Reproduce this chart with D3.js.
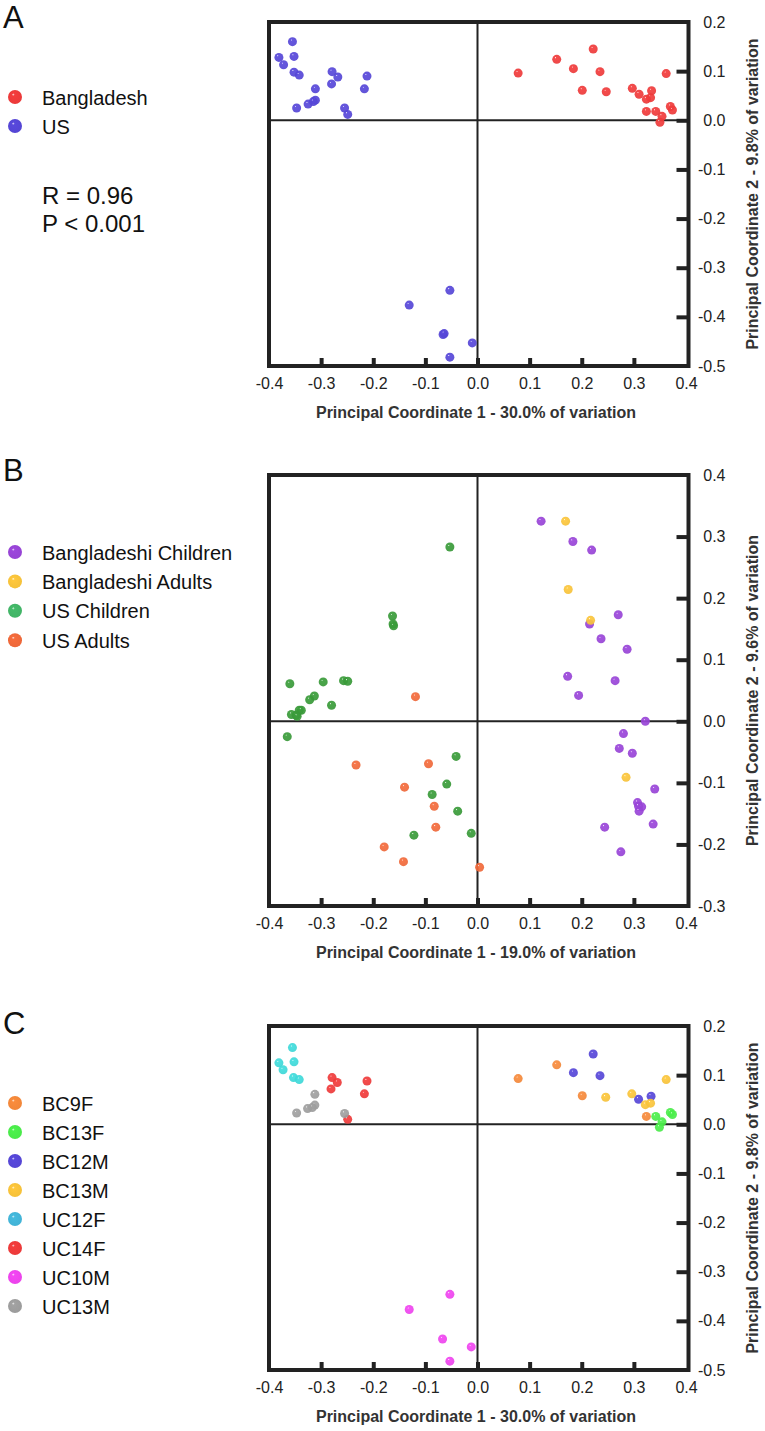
<!DOCTYPE html>
<html><head><meta charset="utf-8">
<script src="https://cdn.jsdelivr.net/npm/d3@7"></script>
<style>
body{margin:0;background:#fff}
svg{display:block}
text{font-family:"Liberation Sans",Arial,Helvetica,sans-serif}
</style>
</head><body>
<svg id="chart" width="765" height="1431"></svg>
<script>
// ---------------- DATA ----------------
const xTicks = [-0.4,-0.3,-0.2,-0.1,0.0,0.1,0.2,0.3,0.4];
const xTickLabels = ["-0.4","-0.3","-0.2","-0.1","0.0","0.1","0.2","0.3","0.4"];
const yTicksAC = [0.2,0.1,0.0,-0.1,-0.2,-0.3,-0.4,-0.5];
const yTickLabelsAC = ["0.2","0.1","0.0","-0.1","-0.2","-0.3","-0.4","-0.5"];
const yTicksB = [0.4,0.3,0.2,0.1,0.0,-0.1,-0.2,-0.3];
const yTickLabelsB = ["0.4","0.3","0.2","0.1","0.0","-0.1","-0.2","-0.3"];

// Panel A
const categoriesA = ["Bangladesh","US"];
const colorsA = ["#f43c3c","#5848dc"];
const bangladesh = [[0.078,0.096],[0.152,0.124],[0.222,0.145],[0.184,0.105],[0.235,0.099],[0.201,0.061],[0.247,0.058],[0.297,0.065],[0.310,0.053],[0.334,0.060],[0.332,0.046],[0.324,0.043],[0.362,0.095],[0.324,0.018],[0.342,0.018],[0.370,0.028],[0.374,0.021],[0.354,0.008],[0.350,-0.004]];
const us = [[-0.355,0.160],[-0.381,0.128],[-0.352,0.130],[-0.372,0.113],[-0.352,0.098],[-0.342,0.092],[-0.279,0.099],[-0.268,0.088],[-0.212,0.090],[-0.280,0.074],[-0.311,0.064],[-0.217,0.064],[-0.311,0.041],[-0.315,0.038],[-0.325,0.033],[-0.347,0.025],[-0.255,0.025],[-0.249,0.012],[-0.053,-0.346],[-0.131,-0.376],[-0.066,-0.436],[-0.064,-0.434],[-0.010,-0.453],[-0.053,-0.482]];
const statsA = ["R = 0.96","P < 0.001"];

// Panel B
const categoriesB = ["Bangladeshi Children","Bangladeshi Adults","US Children","US Adults"];
const colorsB = ["#9c46dc","#ffc83c","#3a9e3a","#f66c3c"];
const legendColorsB = ["#9c46dc","#ffc83c","#44bb6a","#f66c3c"];
const bdChildren = [[0.122,0.325],[0.183,0.292],[0.219,0.278],[0.270,0.173],[0.215,0.158],[0.237,0.134],[0.287,0.117],[0.173,0.073],[0.264,0.066],[0.194,0.042],[0.322,0.000],[0.280,-0.020],[0.272,-0.044],[0.297,-0.052],[0.340,-0.110],[0.307,-0.132],[0.315,-0.139],[0.309,-0.138],[0.310,-0.146],[0.337,-0.167],[0.244,-0.172],[0.275,-0.212]];
const bdAdults = [[0.169,0.325],[0.174,0.214],[0.217,0.164],[0.285,-0.091]];
const usChildren = [[-0.053,0.283],[-0.163,0.171],[-0.162,0.158],[-0.161,0.155],[-0.360,0.061],[-0.296,0.064],[-0.257,0.066],[-0.249,0.065],[-0.313,0.041],[-0.322,0.035],[-0.280,0.026],[-0.342,0.018],[-0.338,0.018],[-0.357,0.011],[-0.348,0.010],[-0.346,0.008],[-0.365,-0.025],[-0.041,-0.057],[-0.059,-0.102],[-0.087,-0.119],[-0.038,-0.146],[-0.122,-0.185],[-0.012,-0.182]];
const usAdults = [[-0.119,0.040],[-0.233,-0.071],[-0.094,-0.069],[-0.140,-0.107],[-0.083,-0.138],[-0.080,-0.172],[-0.179,-0.204],[-0.142,-0.228],[0.004,-0.237]];

// Panel C
const categoriesC = ["BC9F","BC13F","BC12M","BC13M","UC12F","UC14F","UC10M","UC13M"];
const colorsC = ["#fa8c3c","#4cf24c","#5848dc","#ffc83c","#40dede","#f43c3c","#f446f4","#a2a2a2"];
const legendColorsC = ["#fa8c3c","#4cf24c","#5848dc","#ffc83c","#44bade","#f43c3c","#f446f4","#a2a2a2"];
const bc9f = [[0.078,0.093],[0.152,0.121],[0.201,0.058],[0.324,0.016]];
const bc13f = [[0.342,0.016],[0.370,0.024],[0.374,0.020],[0.354,0.005],[0.349,-0.006]];
const bc12m = [[0.222,0.143],[0.184,0.105],[0.235,0.099],[0.309,0.051],[0.333,0.057]];
const bc13m = [[0.246,0.055],[0.296,0.062],[0.322,0.040],[0.332,0.043],[0.362,0.091]];
const uc12f = [[-0.355,0.156],[-0.381,0.125],[-0.352,0.127],[-0.373,0.111],[-0.353,0.095],[-0.342,0.091]];
const uc14f = [[-0.279,0.095],[-0.269,0.085],[-0.212,0.088],[-0.281,0.072],[-0.217,0.062],[-0.249,0.010]];
const uc10m = [[-0.053,-0.346],[-0.131,-0.377],[-0.067,-0.437],[-0.012,-0.453],[-0.053,-0.482]];
const uc13m = [[-0.312,0.061],[-0.312,0.039],[-0.317,0.034],[-0.326,0.032],[-0.347,0.023],[-0.255,0.022]];

// ---------------- DRAW ----------------
const svg = d3.select("#chart");
const defs = svg.append("defs");
const INK = "#222";

function sphere(color){
  const id = "sp" + color.replace("#","");
  if (defs.select("#"+id).empty()){
    const g = defs.append("radialGradient").attr("id",id)
      .attr("cx","0.5").attr("cy","0.5").attr("r","0.55").attr("fx","0.36").attr("fy","0.3");
    g.append("stop").attr("offset","0").attr("stop-color", d3.interpolateRgb(color,"#fff")(0.9));
    g.append("stop").attr("offset","0.18").attr("stop-color", color);
    g.append("stop").attr("offset","1").attr("stop-color", d3.color(color).darker(0.12));
  }
  return "url(#"+id+")";
}

const x = d3.scaleLinear().domain([-0.4,0.4]).range([269,686]);
const frameL = 269, frameR = 688.5;

function panel(cfg){
  const y = d3.scaleLinear().domain(cfg.yDomain).range([cfg.bottom, cfg.top]);
  const g = svg.append("g");

  g.append("line").attr("x1",frameL).attr("x2",frameR).attr("y1",y(0)).attr("y2",y(0))
    .attr("stroke",INK).attr("stroke-width",2);
  g.append("line").attr("x1",x(0)).attr("x2",x(0)).attr("y1",cfg.top).attr("y2",cfg.bottom)
    .attr("stroke",INK).attr("stroke-width",2);

  cfg.series.forEach((s,i)=>{
    g.append("g").selectAll("circle").data(s).join("circle")
      .attr("cx",d=>x(d[0])).attr("cy",d=>y(d[1])).attr("r",4.5)
      .attr("fill",sphere(cfg.colors[i])).attr("opacity",0.92);
  });

  g.append("rect").attr("x",frameL).attr("y",cfg.top).attr("width",frameR-frameL)
    .attr("height",cfg.bottom-cfg.top).attr("fill","none").attr("stroke",INK).attr("stroke-width",4);

  const innerX = xTicks.slice(1,-1);
  const bt = g.append("g").attr("transform",`translate(0,${cfg.bottom})`)
    .call(d3.axisBottom(x).tickValues(innerX).tickSize(-8).tickFormat(""));
  bt.select(".domain").remove();
  bt.selectAll("line").attr("stroke",INK).attr("stroke-width",4);
  const bl = g.append("g").attr("transform",`translate(0,${cfg.bottom})`)
    .call(d3.axisBottom(x).tickValues(xTicks).tickSize(0).tickPadding(12)
      .tickFormat((d,i)=>xTickLabels[i]));
  bl.select(".domain").remove();
  bl.selectAll("text").attr("font-size",16).attr("fill",INK)
    .attr("font-family","Liberation Sans, Arial, sans-serif");

  const innerY = cfg.yTicks.slice(1,-1);
  const rt = g.append("g").attr("transform",`translate(${frameR},0)`)
    .call(d3.axisRight(y).tickValues(innerY).tickSize(-12).tickFormat(""));
  rt.select(".domain").remove();
  rt.selectAll("line").attr("stroke",INK).attr("stroke-width",4);
  const rl = g.append("g").attr("transform",`translate(${frameR},0)`)
    .call(d3.axisRight(y).tickValues(cfg.yTicks).tickSize(0)
      .tickFormat((d,i)=>cfg.yTickLabels[i]));
  rl.select(".domain").remove();
  rl.selectAll("text").attr("font-size",16).attr("fill",INK)
    .attr("text-anchor","end").attr("x",37)
    .attr("font-family","Liberation Sans, Arial, sans-serif");

  g.append("text").attr("x",476).attr("y",cfg.bottom+52).attr("text-anchor","middle")
    .attr("font-size",16).attr("font-weight","bold").attr("fill","#333").text(cfg.xTitle);
  g.append("text").attr("transform",`translate(758,${(cfg.top+cfg.bottom)/2}) rotate(-90)`)
    .attr("text-anchor","middle").attr("font-size",16).attr("font-weight","bold")
    .attr("fill","#333").text(cfg.yTitle);

  g.append("text").attr("x",3).attr("y",cfg.letterY).attr("font-size",31)
    .attr("fill","#111").text(cfg.letter);

  cfg.categories.forEach((c,i)=>{
    const ly = cfg.legendY0 + i*cfg.legendStep;
    g.append("circle").attr("cx",15).attr("cy",ly).attr("r",7)
      .attr("fill",sphere(cfg.legendColors[i]));
    g.append("text").attr("x",42).attr("y",ly+7.5).attr("font-size",20)
      .attr("fill","#111").text(c);
  });
  if (cfg.stats){
    cfg.stats.forEach((t,i)=>{
      g.append("text").attr("x",42).attr("y",cfg.statsY0+i*28).attr("font-size",24)
        .attr("fill","#111").text(t);
    });
  }
}

panel({
  top:22, bottom:366, yDomain:[-0.5,0.2], yTicks:yTicksAC, yTickLabels:yTickLabelsAC,
  xTitle:"Principal Coordinate 1 - 30.0% of variation",
  yTitle:"Principal Coordinate 2 - 9.8% of variation",
  letter:"A", letterY:28,
  categories:categoriesA, colors:colorsA, legendColors:colorsA,
  series:[bangladesh, us], legendY0:97, legendStep:29,
  stats:statsA, statsY0:204
});

panel({
  top:475, bottom:906, yDomain:[-0.3,0.4], yTicks:yTicksB, yTickLabels:yTickLabelsB,
  xTitle:"Principal Coordinate 1 - 19.0% of variation",
  yTitle:"Principal Coordinate 2 - 9.6% of variation",
  letter:"B", letterY:481,
  categories:categoriesB, colors:colorsB, legendColors:legendColorsB,
  series:[bdChildren, bdAdults, usChildren, usAdults], legendY0:552, legendStep:29.4
});

panel({
  top:1026, bottom:1370, yDomain:[-0.5,0.2], yTicks:yTicksAC, yTickLabels:yTickLabelsAC,
  xTitle:"Principal Coordinate 1 - 30.0% of variation",
  yTitle:"Principal Coordinate 2 - 9.8% of variation",
  letter:"C", letterY:1034,
  categories:categoriesC, colors:colorsC, legendColors:legendColorsC,
  series:[bc9f, bc13f, bc12m, bc13m, uc12f, uc14f, uc10m, uc13m], legendY0:1103, legendStep:29
});
</script>
</body></html>
